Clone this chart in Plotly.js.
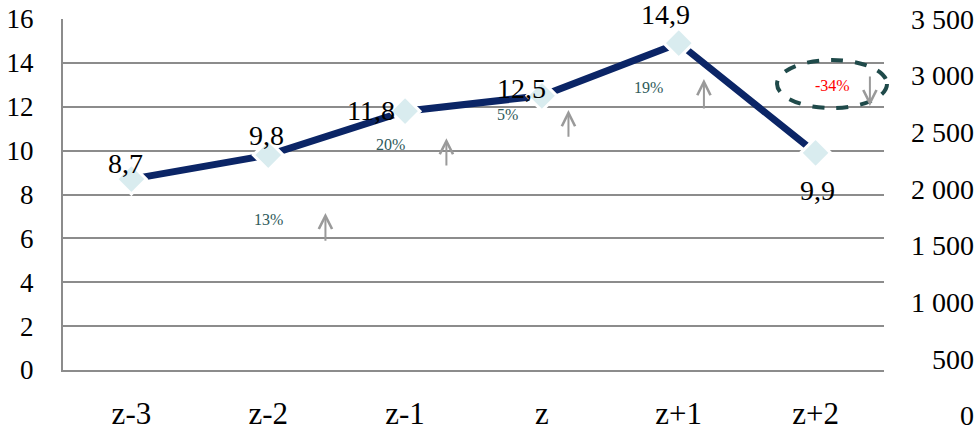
<!DOCTYPE html>
<html>
<head>
<meta charset="utf-8">
<script src="https://cdn.plot.ly/plotly-3.0.1.min.js"></script>
<style>html,body{margin:0;padding:0;background:#fff;} #chart{width:974px;height:430px;}</style>
</head>
<body>
<div id="chart"></div>
<script>
// ---- data ----
const categories = ['z-3', 'z-2', 'z-1', 'z', 'z+1', 'z+2'];
const values = [8.7, 9.8, 11.8, 12.5, 14.9, 9.9];
const growthLabels = ['13%', '20%', '5%', '19%', '-34%'];
const leftTicks = [0, 2, 4, 6, 8, 10, 12, 14, 16];
const rightTicks = [0, 500, 1000, 1500, 2000, 2500, 3000, 3500];

// ---- layout helpers (positions / styles) ----
// pixel offsets of value labels (right, down)
const labelShift = [[-6, -16], [-2, -20], [-34, -1], [-20, -7], [-13, -29], [2, 38]];
const growthPos = [[1.0, 6.84], [1.893, 10.26], [2.749, 11.67], [3.781, 12.90], [5.127, 12.99]];
const growthColor = ['#2e5a5a', '#2e5a5a', '#2e5a5a', '#2e5a5a', '#ff0000'];
// arrows: [x, headY, tailY]
const arrowPos = [[1.418, 7.16, 5.83], [2.302, 10.57, 9.25], [3.194, 11.85, 10.57], [4.184, 13.26, 11.85], [5.397, 12.03, 13.45]];

const FONT = 'Liberation Serif, Times New Roman, serif';

const fmt = v => v.toFixed(1).replace('.', ',');

const annotations = [];
values.forEach((v, i) => {
  annotations.push({
    x: i, y: v, xref: 'x', yref: 'y', text: fmt(v), showarrow: false,
    xshift: labelShift[i][0], yshift: -labelShift[i][1],
    font: {family: FONT, size: 28, color: '#000'}
  });
});
growthLabels.forEach((t, i) => {
  annotations.push({
    x: growthPos[i][0], y: growthPos[i][1], xref: 'x', yref: 'y', text: t, showarrow: false,
    font: {family: FONT, size: 16, color: growthColor[i]}
  });
});
arrowPos.forEach(a => {
  annotations.push({
    x: a[0], y: a[1], ax: a[0], ay: a[2], xref: 'x', yref: 'y', axref: 'x', ayref: 'y',
    text: '', showarrow: true, arrowhead: 5, arrowsize: 1.3, arrowwidth: 2, arrowcolor: '#9a9a9a'
  });
});

const traces = [
  {
    type: 'scatter', mode: 'lines+markers', x: categories, y: values,
    xaxis: 'x', yaxis: 'y',
    line: {color: '#0b2566', width: 7},
    marker: {symbol: 'diamond', size: 23, color: '#d9ecef', line: {color: '#ffffff', width: 3}},
    hoverinfo: 'skip', cliponaxis: false
  },
  {
    type: 'scatter', mode: 'lines', x: [], y: [], xaxis: 'x', yaxis: 'y2', hoverinfo: 'skip', showlegend: false
  }
];

const layout = {
  width: 974, height: 430,
  margin: {l: 63, r: 0, t: 19, b: 13},
  paper_bgcolor: '#fff', plot_bgcolor: 'rgba(0,0,0,0)',
  showlegend: false,
  separators: ', ',
  font: {family: FONT, color: '#000'},
  xaxis: {
    domain: [0, 0.9012], anchor: 'y',
    type: 'category', categoryorder: 'array', categoryarray: categories,
    range: [-0.5, 5.5],
    showgrid: false, zeroline: false,
    showline: true, linecolor: '#8c8c8c', linewidth: 2,
    ticks: 'outside', ticklen: 15, tickcolor: 'rgba(0,0,0,0)',
    tickfont: {family: FONT, size: 31, color: '#000'}
  },
  yaxis: {
    domain: [0.118, 1], anchor: 'x',
    range: [0, 16], tickvals: leftTicks, ticktext: leftTicks.map(String),
    showgrid: true, gridcolor: '#8c8c8c', gridwidth: 2,
    zeroline: false, showline: true, linecolor: '#8c8c8c', linewidth: 2,
    ticks: 'outside', ticklen: 22, tickcolor: 'rgba(0,0,0,0)',
    tickfont: {family: FONT, size: 27, color: '#000'}
  },
  yaxis2: {
    domain: [0, 1], anchor: 'free', position: 1, side: 'left',
    range: [-12, 3500], autorange: false, tickvals: rightTicks,
    separatethousands: true, ticklabeloverflow: 'allow',
    showgrid: false, zeroline: false, showline: false,
    ticks: '',
    tickfont: {family: FONT, size: 28, color: '#000'}
  },
  shapes: [{
    type: 'circle', xref: 'paper', yref: 'paper',
    x0: 0.7838, x1: 0.9045, y0: 0.7764, y1: 0.897,
    line: {color: '#1f4a4a', width: 4, dash: 'dash'},
    fillcolor: 'rgba(0,0,0,0)', layer: 'above'
  }],
  annotations: annotations
};

Plotly.newPlot('chart', traces, layout, {staticPlot: true, displayModeBar: false});
</script>
</body>
</html>
